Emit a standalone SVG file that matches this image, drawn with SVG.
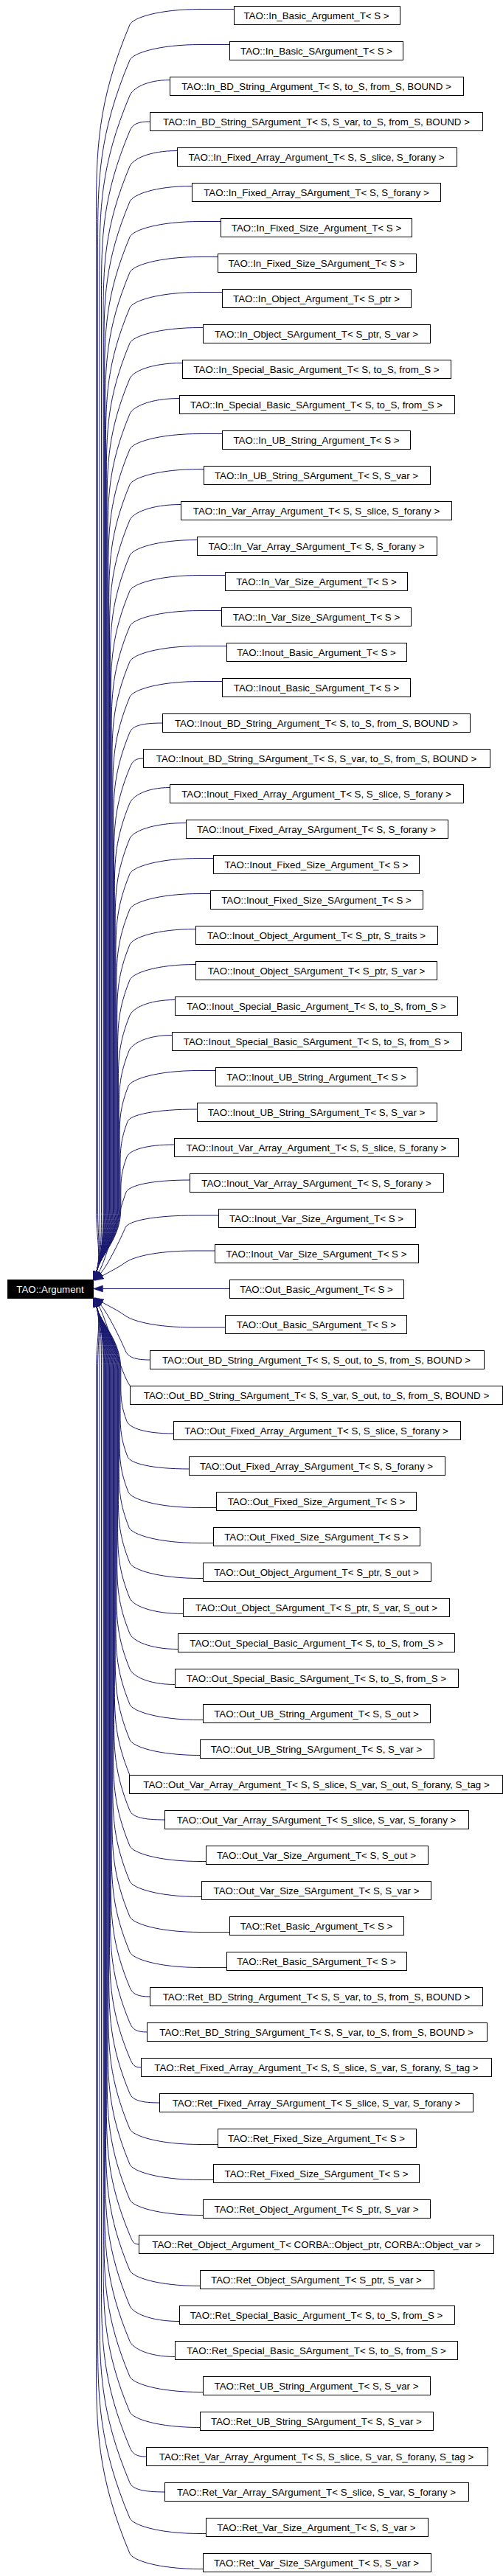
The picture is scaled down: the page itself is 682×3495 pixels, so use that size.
<svg xmlns="http://www.w3.org/2000/svg" width="682" height="3495" viewBox="0 0 682 3495">
<style>
.n rect{fill:#fff;stroke:#000;stroke-width:1}
.root rect{fill:#000;stroke:#000;stroke-width:1}
text{font-family:"Liberation Sans",Arial,Helvetica,sans-serif;font-size:13.3px;text-anchor:middle;fill:#000}
.root text{fill:#fff}
.e path{fill:none;stroke:#191970;stroke-width:1;marker-end:url(#ah)}
</style>
<defs>
<marker id="ah" viewBox="0 -5 13 10" refX="0" refY="0" markerWidth="13" markerHeight="10" markerUnits="userSpaceOnUse" orient="auto"><path d="M0,-4.5 L13,0 L0,4.5 z" fill="#191970" stroke="#191970" stroke-width="0.5"/></marker>
</defs>
<rect x="0" y="0" width="682" height="3495" fill="#fff"/>
<g id="edges" class="e">
<path d="M317.5,12.5 L272,12.5 C214.4,12.5 179.9,24.3 176,33.5 C131.5,139.1 130.5,205 130.5,297.4 L130.5,1640 C130.5,1680 137.4,1700.8 130.9,1724.9"/>
<path d="M311.5,60.5 L272,60.5 C214.4,60.5 179.9,72.3 176,81.5 C133.5,182.4 132.5,245.5 132.5,333.8 L132.5,1640 C132.5,1680 137.4,1700.8 130.9,1724.9"/>
<path d="M230.5,108.5 C197.8,108.5 179.9,120.3 176,129.5 C136,224.6 135,284.1 135,367.3 L135,1640 C135,1680 137.4,1700.8 130.9,1724.9"/>
<path d="M203.5,165 C186.8,165 179.9,168.3 176,177.5 C138.5,266.8 137.5,322.6 137.5,400.8 L137.5,1640 C137.5,1680 137.4,1700.8 130.9,1724.9"/>
<path d="M240.5,204.5 C201.4,204.5 179.9,216.3 176,225.5 C141,309 140,361.2 140,434.3 L140,1640 C140,1680 137.4,1700.8 130.9,1724.9"/>
<path d="M260.5,252.5 C209.6,252.5 179.9,264.3 176,273.5 C141.9,355 140.9,406 140.9,477.4 L140.9,1640 C140.9,1680 137.4,1700.8 130.9,1724.9"/>
<path d="M299.5,300.5 L272,300.5 C214.4,300.5 179.9,312.3 176,321.5 C142.7,401.1 141.7,450.8 141.7,520.4 L141.7,1640 C141.7,1680 137.4,1700.8 130.9,1724.9"/>
<path d="M295.5,348.5 L272,348.5 C214.4,348.5 179.9,360.3 176,369.5 C143.6,447.1 142.6,495.6 142.6,563.5 L142.6,1640 C142.6,1680 137.4,1700.8 130.9,1724.9"/>
<path d="M301.5,396.5 L272,396.5 C214.4,396.5 179.9,408.3 176,417.5 C144.4,493.1 143.4,540.4 143.4,606.6 L143.4,1640 C143.4,1680 137.4,1700.8 130.9,1724.9"/>
<path d="M275.5,444.5 L272,444.5 C214.4,444.5 179.9,456.3 176,465.5 C145.3,539.2 144.3,585.2 144.3,649.7 L144.3,1640 C144.3,1680 137.4,1700.8 130.9,1724.9"/>
<path d="M247.5,492.5 C204.3,492.5 179.9,504.3 176,513.5 C146.1,585.2 145.1,630 145.1,692.7 L145.1,1640 C145.1,1680 137.4,1700.8 130.9,1724.9"/>
<path d="M243.5,540.5 C202.7,540.5 179.9,552.3 176,561.5 C147,631.2 146,674.8 146,735.8 L146,1640 C146,1680 137.4,1700.8 130.9,1724.9"/>
<path d="M301.5,588.5 L272,588.5 C214.4,588.5 179.9,600.3 176,609.5 C147.8,677.2 146.8,719.6 146.8,778.9 L146.8,1640 C146.8,1680 137.4,1700.8 130.9,1724.9"/>
<path d="M276.5,636.5 L272,636.5 C214.4,636.5 179.9,648.3 176,657.5 C148.7,723.3 147.7,764.4 147.7,821.9 L147.7,1640 C147.7,1680 137.4,1700.8 130.9,1724.9"/>
<path d="M245.5,684.5 C203.4,684.5 179.9,696.3 176,705.5 C149.5,769.3 148.5,809.2 148.5,865 L148.5,1640 C148.5,1680 137.4,1700.8 130.9,1724.9"/>
<path d="M267.5,732.5 C212.4,732.5 179.9,744.3 176,753.5 C150.4,815.3 149.4,854 149.4,908.1 L149.4,1640 C149.4,1680 137.4,1700.8 130.9,1724.9"/>
<path d="M305.5,780.5 L272,780.5 C214.4,780.5 179.9,792.3 176,801.5 C151.2,861.4 150.2,898.8 150.2,951.1 L150.2,1640 C150.2,1680 137.4,1700.8 130.9,1724.9"/>
<path d="M300.5,828.5 L272,828.5 C214.4,828.5 179.9,840.3 176,849.5 C152.1,907.4 151.1,943.6 151.1,994.2 L151.1,1640 C151.1,1680 137.4,1700.8 130.9,1724.9"/>
<path d="M307.5,876.5 L272,876.5 C214.4,876.5 179.9,888.3 176,897.5 C152.9,953.4 151.9,988.4 151.9,1037.3 L151.9,1640 C151.9,1680 137.4,1700.8 130.9,1724.9"/>
<path d="M301.5,924.5 L272,924.5 C214.4,924.5 179.9,936.3 176,945.5 C153.8,999.4 152.8,1033.2 152.8,1080.4 L152.8,1640 C152.8,1680 137.4,1700.8 130.9,1724.9"/>
<path d="M220.5,981 C193.7,981 179.9,984.3 176,993.5 C154.6,1045.5 153.6,1077.9 153.6,1123.4 L153.6,1640 C153.6,1680 137.4,1700.8 130.9,1724.9"/>
<path d="M194.5,1029 C183.2,1029 179.9,1032.3 176,1041.5 C155.5,1091.5 154.5,1122.7 154.5,1166.5 L154.5,1640 C154.5,1680 137.4,1700.8 130.9,1724.9"/>
<path d="M230.5,1068.5 C197.8,1068.5 179.9,1080.3 176,1089.5 C156.3,1137.5 155.3,1167.5 155.3,1209.6 L155.3,1640 C155.3,1680 137.4,1700.8 130.9,1724.9"/>
<path d="M252.5,1116.5 C206.2,1116.5 179.9,1128.3 176,1137.5 C157.2,1183.6 156.2,1212.3 156.2,1252.6 L156.2,1640 C156.2,1680 137.4,1700.8 130.9,1724.9"/>
<path d="M289.5,1164.5 L272,1164.5 C214.4,1164.5 179.9,1176.3 176,1185.5 C158,1229.6 157,1257.1 157,1295.7 L157,1640 C157,1680 137.4,1700.8 130.9,1724.9"/>
<path d="M285.5,1212.5 L272,1212.5 C214.4,1212.5 179.9,1224.3 176,1233.5 C158.9,1275.6 157.9,1301.9 157.9,1338.8 L157.9,1640 C157.9,1680 137.4,1700.8 130.9,1724.9"/>
<path d="M265.5,1260.5 C211.5,1260.5 179.9,1272.3 176,1281.5 C159.7,1321.6 158.7,1346.7 158.7,1381.8 L158.7,1640 C158.7,1680 137.4,1700.8 130.9,1724.9"/>
<path d="M265.5,1308.5 C211.5,1308.5 179.9,1320.3 176,1329.5 C160.6,1367.7 159.6,1391.5 159.6,1424.9 L159.6,1640 C159.6,1680 137.4,1700.8 130.9,1724.9"/>
<path d="M237.5,1356.5 C200.2,1356.5 179.9,1368.3 176,1377.5 C161.4,1413.7 160.4,1436.3 160.4,1468 L160.4,1640 C160.4,1680 137.4,1700.8 130.9,1724.9"/>
<path d="M233.5,1404.5 C198,1404.5 178.9,1416.3 175,1425.5 C162.3,1457.4 161.3,1477.3 161.3,1505.3 L161.3,1640 C161.3,1680 137.4,1700.8 130.9,1724.9"/>
<path d="M292.5,1452.5 L270,1452.5 C212.4,1452.5 177.9,1464.3 174,1473.5 C163.1,1501.1 162.1,1518.4 162.1,1542.5 L162.1,1640 C162.1,1680 137.4,1700.8 130.9,1724.9"/>
<path d="M267.5,1505 C210.6,1505 176.9,1512.3 173,1521.5 C164,1544.8 163,1559.4 163,1579.8 L163,1640 C163,1680 137.4,1700.8 130.9,1724.9"/>
<path d="M236.5,1553 C197.5,1553 175.9,1560.3 172,1569.5 C164.8,1588.5 163.8,1600.4 163.8,1617.1 L163.8,1640 C163.8,1680 137.4,1700.8 130.9,1724.9"/>
<path d="M257.5,1601 C205.3,1601 174.9,1608.3 171,1617.5 C165,1631.8 144,1708.9 134,1726.2"/>
<path d="M296.5,1649 L266,1649 C208.4,1649 173.9,1656.3 170,1665.5 C164.2,1679.3 146.2,1716.7 136.2,1727.8"/>
<path d="M291.5,1697 L265,1697 C207.4,1697 178.6,1706.3 169,1713.5 C161,1719.5 145.7,1727 138.8,1731"/>
<path d="M311.5,1748.5 L139.5,1748.5"/>
<g transform="matrix(1 0 0 -1 0 3498)">
<path d="M305.5,1697 L265,1697 C207.4,1697 178.6,1706.3 169,1713.5 C161,1719.5 145.7,1727 138.8,1731"/>
<path d="M203.5,1653 C183.2,1653 173.9,1656.3 170,1665.5 C164.2,1679.3 146.2,1716.7 136.2,1727.8"/>
<path d="M176.5,1617.5 C165,1631.8 144,1708.9 134,1726.2"/>
<path d="M235.5,1553 C197.1,1553 175.9,1560.3 172,1569.5 C164.8,1588.5 163.8,1600.4 163.8,1617.1 L163.8,1640 C163.8,1680 137.4,1700.8 130.9,1724.9"/>
<path d="M256.5,1505 C206.2,1505 176.9,1512.3 173,1521.5 C164,1544.8 163,1559.4 163,1579.8 L163,1640 C163,1680 137.4,1700.8 130.9,1724.9"/>
<path d="M293.5,1452.5 L270,1452.5 C212.4,1452.5 177.9,1464.3 174,1473.5 C163.1,1501.1 162.1,1518.4 162.1,1542.5 L162.1,1640 C162.1,1680 137.4,1700.8 130.9,1724.9"/>
<path d="M289.5,1404.5 L271,1404.5 C213.4,1404.5 178.9,1416.3 175,1425.5 C162.3,1457.4 161.3,1477.3 161.3,1505.3 L161.3,1640 C161.3,1680 137.4,1700.8 130.9,1724.9"/>
<path d="M275.5,1356.5 L272,1356.5 C214.4,1356.5 179.9,1368.3 176,1377.5 C161.4,1413.7 160.4,1436.3 160.4,1468 L160.4,1640 C160.4,1680 137.4,1700.8 130.9,1724.9"/>
<path d="M248.5,1308.5 C204.6,1308.5 179.9,1320.3 176,1329.5 C160.6,1367.7 159.6,1391.5 159.6,1424.9 L159.6,1640 C159.6,1680 137.4,1700.8 130.9,1724.9"/>
<path d="M241.5,1260.5 C201.8,1260.5 179.9,1272.3 176,1281.5 C159.7,1321.6 158.7,1346.7 158.7,1381.8 L158.7,1640 C158.7,1680 137.4,1700.8 130.9,1724.9"/>
<path d="M237.5,1212.5 C200.2,1212.5 179.9,1224.3 176,1233.5 C158.9,1275.6 157.9,1301.9 157.9,1338.8 L157.9,1640 C157.9,1680 137.4,1700.8 130.9,1724.9"/>
<path d="M275.5,1164.5 L272,1164.5 C214.4,1164.5 179.9,1176.3 176,1185.5 C158,1229.6 157,1257.1 157,1295.7 L157,1640 C157,1680 137.4,1700.8 130.9,1724.9"/>
<path d="M271.5,1116.5 C214,1116.5 179.9,1128.3 176,1137.5 C157.2,1183.6 156.2,1212.3 156.2,1252.6 L156.2,1640 C156.2,1680 137.4,1700.8 130.9,1724.9"/>
<path d="M176,1089.5 C156.3,1137.5 155.3,1167.5 155.3,1209.6 L155.3,1640 C155.3,1680 137.4,1700.8 130.9,1724.9"/>
<path d="M223.5,1029 C194.6,1029 179.9,1032.3 176,1041.5 C155.5,1091.5 154.5,1122.7 154.5,1166.5 L154.5,1640 C154.5,1680 137.4,1700.8 130.9,1724.9"/>
<path d="M279.5,972.5 L272,972.5 C214.4,972.5 179.9,984.3 176,993.5 C154.6,1045.5 153.6,1077.9 153.6,1123.4 L153.6,1640 C153.6,1680 137.4,1700.8 130.9,1724.9"/>
<path d="M273.5,924.5 L272,924.5 C214.4,924.5 179.9,936.3 176,945.5 C153.8,999.4 152.8,1033.2 152.8,1080.4 L152.8,1640 C152.8,1680 137.4,1700.8 130.9,1724.9"/>
<path d="M311.5,876.5 L272,876.5 C214.4,876.5 179.9,888.3 176,897.5 C152.9,953.4 151.9,988.4 151.9,1037.3 L151.9,1640 C151.9,1680 137.4,1700.8 130.9,1724.9"/>
<path d="M307.5,828.5 L272,828.5 C214.4,828.5 179.9,840.3 176,849.5 C152.1,907.4 151.1,943.6 151.1,994.2 L151.1,1640 C151.1,1680 137.4,1700.8 130.9,1724.9"/>
<path d="M203.5,789 C186.8,789 179.9,792.3 176,801.5 C151.2,861.4 150.2,898.8 150.2,951.1 L150.2,1640 C150.2,1680 137.4,1700.8 130.9,1724.9"/>
<path d="M199.5,741 C185.3,741 179.9,744.3 176,753.5 C150.4,815.3 149.4,854 149.4,908.1 L149.4,1640 C149.4,1680 137.4,1700.8 130.9,1724.9"/>
<path d="M191.5,693 C182.1,693 179.9,696.3 176,705.5 C149.5,769.3 148.5,809.2 148.5,865 L148.5,1640 C148.5,1680 137.4,1700.8 130.9,1724.9"/>
<path d="M216.5,645 C192.1,645 179.9,648.3 176,657.5 C148.7,723.3 147.7,764.4 147.7,821.9 L147.7,1640 C147.7,1680 137.4,1700.8 130.9,1724.9"/>
<path d="M295.5,588.5 L272,588.5 C214.4,588.5 179.9,600.3 176,609.5 C147.8,677.2 146.8,719.6 146.8,778.9 L146.8,1640 C146.8,1680 137.4,1700.8 130.9,1724.9"/>
<path d="M289.5,540.5 L272,540.5 C214.4,540.5 179.9,552.3 176,561.5 C147,631.2 146,674.8 146,735.8 L146,1640 C146,1680 137.4,1700.8 130.9,1724.9"/>
<path d="M275.5,492.5 L272,492.5 C214.4,492.5 179.9,504.3 176,513.5 C146.1,585.2 145.1,630 145.1,692.7 L145.1,1640 C145.1,1680 137.4,1700.8 130.9,1724.9"/>
<path d="M188.5,453 C180.9,453 179.9,456.3 176,465.5 C145.3,539.2 144.3,585.2 144.3,649.7 L144.3,1640 C144.3,1680 137.4,1700.8 130.9,1724.9"/>
<path d="M271.5,396.5 C214,396.5 179.9,408.3 176,417.5 C144.4,493.1 143.4,540.4 143.4,606.6 L143.4,1640 C143.4,1680 137.4,1700.8 130.9,1724.9"/>
<path d="M243.5,348.5 C202.7,348.5 179.9,360.3 176,369.5 C143.6,447.1 142.6,495.6 142.6,563.5 L142.6,1640 C142.6,1680 137.4,1700.8 130.9,1724.9"/>
<path d="M237.5,300.5 C200.2,300.5 179.9,312.3 176,321.5 C142.7,401.1 141.7,450.8 141.7,520.4 L141.7,1640 C141.7,1680 137.4,1700.8 130.9,1724.9"/>
<path d="M275.5,252.5 L272,252.5 C214.4,252.5 179.9,264.3 176,273.5 C141.9,355 140.9,406 140.9,477.4 L140.9,1640 C140.9,1680 137.4,1700.8 130.9,1724.9"/>
<path d="M271.5,204.5 C214,204.5 179.9,216.3 176,225.5 C141,309 140,361.2 140,434.3 L140,1640 C140,1680 137.4,1700.8 130.9,1724.9"/>
<path d="M198.5,165 C184.9,165 179.9,168.3 176,177.5 C138.5,266.8 137.5,322.6 137.5,400.8 L137.5,1640 C137.5,1680 137.4,1700.8 130.9,1724.9"/>
<path d="M223.5,117 C195,117 179.9,120.3 176,129.5 C136,224.6 135,284.1 135,367.3 L135,1640 C135,1680 137.4,1700.8 130.9,1724.9"/>
<path d="M279.5,60.5 L272,60.5 C214.4,60.5 179.9,72.3 176,81.5 C133.5,182.4 132.5,245.5 132.5,333.8 L132.5,1640 C132.5,1680 137.4,1700.8 130.9,1724.9"/>
<path d="M275.5,12.5 L272,12.5 C214.4,12.5 179.9,24.3 176,33.5 C131.5,139.1 130.5,205 130.5,297.4 L130.5,1640 C130.5,1680 137.4,1700.8 130.9,1724.9"/>
</g>
</g>
<g id="root" class="root"><rect x="10.5" y="1736.5" width="116" height="25"/><text x="68" y="1754">TAO::Argument</text></g>
<g id="n1" class="n"><rect x="317.5" y="8.5" width="225" height="25"/><text x="429" y="26">TAO::In_Basic_Argument_T&lt; S &gt;</text></g>
<g id="n2" class="n"><rect x="311.5" y="56.5" width="235" height="25"/><text x="429" y="74">TAO::In_Basic_SArgument_T&lt; S &gt;</text></g>
<g id="n3" class="n"><rect x="230.5" y="104.5" width="398" height="25"/><text x="429" y="122">TAO::In_BD_String_Argument_T&lt; S, to_S, from_S, BOUND &gt;</text></g>
<g id="n4" class="n"><rect x="203.5" y="152.5" width="451" height="25"/><text x="429" y="170">TAO::In_BD_String_SArgument_T&lt; S, S_var, to_S, from_S, BOUND &gt;</text></g>
<g id="n5" class="n"><rect x="240.5" y="200.5" width="379" height="25"/><text x="429" y="218">TAO::In_Fixed_Array_Argument_T&lt; S, S_slice, S_forany &gt;</text></g>
<g id="n6" class="n"><rect x="260.5" y="248.5" width="337" height="25"/><text x="429" y="266">TAO::In_Fixed_Array_SArgument_T&lt; S, S_forany &gt;</text></g>
<g id="n7" class="n"><rect x="299.5" y="296.5" width="259" height="25"/><text x="429" y="314">TAO::In_Fixed_Size_Argument_T&lt; S &gt;</text></g>
<g id="n8" class="n"><rect x="295.5" y="344.5" width="269" height="25"/><text x="429" y="362">TAO::In_Fixed_Size_SArgument_T&lt; S &gt;</text></g>
<g id="n9" class="n"><rect x="301.5" y="392.5" width="256" height="25"/><text x="429" y="410">TAO::In_Object_Argument_T&lt; S_ptr &gt;</text></g>
<g id="n10" class="n"><rect x="275.5" y="440.5" width="308" height="25"/><text x="429" y="458">TAO::In_Object_SArgument_T&lt; S_ptr, S_var &gt;</text></g>
<g id="n11" class="n"><rect x="247.5" y="488.5" width="364" height="25"/><text x="429" y="506">TAO::In_Special_Basic_Argument_T&lt; S, to_S, from_S &gt;</text></g>
<g id="n12" class="n"><rect x="243.5" y="536.5" width="373" height="25"/><text x="429" y="554">TAO::In_Special_Basic_SArgument_T&lt; S, to_S, from_S &gt;</text></g>
<g id="n13" class="n"><rect x="301.5" y="584.5" width="255" height="25"/><text x="429" y="602">TAO::In_UB_String_Argument_T&lt; S &gt;</text></g>
<g id="n14" class="n"><rect x="276.5" y="632.5" width="307" height="25"/><text x="429" y="650">TAO::In_UB_String_SArgument_T&lt; S, S_var &gt;</text></g>
<g id="n15" class="n"><rect x="245.5" y="680.5" width="367" height="25"/><text x="429" y="698">TAO::In_Var_Array_Argument_T&lt; S, S_slice, S_forany &gt;</text></g>
<g id="n16" class="n"><rect x="267.5" y="728.5" width="325" height="25"/><text x="429" y="746">TAO::In_Var_Array_SArgument_T&lt; S, S_forany &gt;</text></g>
<g id="n17" class="n"><rect x="305.5" y="776.5" width="247" height="25"/><text x="429" y="794">TAO::In_Var_Size_Argument_T&lt; S &gt;</text></g>
<g id="n18" class="n"><rect x="300.5" y="824.5" width="257" height="25"/><text x="429" y="842">TAO::In_Var_Size_SArgument_T&lt; S &gt;</text></g>
<g id="n19" class="n"><rect x="307.5" y="872.5" width="244" height="25"/><text x="429" y="890">TAO::Inout_Basic_Argument_T&lt; S &gt;</text></g>
<g id="n20" class="n"><rect x="301.5" y="920.5" width="255" height="25"/><text x="429" y="938">TAO::Inout_Basic_SArgument_T&lt; S &gt;</text></g>
<g id="n21" class="n"><rect x="220.5" y="968.5" width="417" height="25"/><text x="429" y="986">TAO::Inout_BD_String_Argument_T&lt; S, to_S, from_S, BOUND &gt;</text></g>
<g id="n22" class="n"><rect x="194.5" y="1016.5" width="470" height="25"/><text x="429" y="1034">TAO::Inout_BD_String_SArgument_T&lt; S, S_var, to_S, from_S, BOUND &gt;</text></g>
<g id="n23" class="n"><rect x="230.5" y="1064.5" width="398" height="25"/><text x="429" y="1082">TAO::Inout_Fixed_Array_Argument_T&lt; S, S_slice, S_forany &gt;</text></g>
<g id="n24" class="n"><rect x="252.5" y="1112.5" width="355" height="25"/><text x="429" y="1130">TAO::Inout_Fixed_Array_SArgument_T&lt; S, S_forany &gt;</text></g>
<g id="n25" class="n"><rect x="289.5" y="1160.5" width="279" height="25"/><text x="429" y="1178">TAO::Inout_Fixed_Size_Argument_T&lt; S &gt;</text></g>
<g id="n26" class="n"><rect x="285.5" y="1208.5" width="288" height="25"/><text x="429" y="1226">TAO::Inout_Fixed_Size_SArgument_T&lt; S &gt;</text></g>
<g id="n27" class="n"><rect x="265.5" y="1256.5" width="328" height="25"/><text x="429" y="1274">TAO::Inout_Object_Argument_T&lt; S_ptr, S_traits &gt;</text></g>
<g id="n28" class="n"><rect x="265.5" y="1304.5" width="327" height="25"/><text x="429" y="1322">TAO::Inout_Object_SArgument_T&lt; S_ptr, S_var &gt;</text></g>
<g id="n29" class="n"><rect x="237.5" y="1352.5" width="383" height="25"/><text x="429" y="1370">TAO::Inout_Special_Basic_Argument_T&lt; S, to_S, from_S &gt;</text></g>
<g id="n30" class="n"><rect x="233.5" y="1400.5" width="392" height="25"/><text x="429" y="1418">TAO::Inout_Special_Basic_SArgument_T&lt; S, to_S, from_S &gt;</text></g>
<g id="n31" class="n"><rect x="292.5" y="1448.5" width="273" height="25"/><text x="429" y="1466">TAO::Inout_UB_String_Argument_T&lt; S &gt;</text></g>
<g id="n32" class="n"><rect x="267.5" y="1496.5" width="325" height="25"/><text x="429" y="1514">TAO::Inout_UB_String_SArgument_T&lt; S, S_var &gt;</text></g>
<g id="n33" class="n"><rect x="236.5" y="1544.5" width="385" height="25"/><text x="429" y="1562">TAO::Inout_Var_Array_Argument_T&lt; S, S_slice, S_forany &gt;</text></g>
<g id="n34" class="n"><rect x="257.5" y="1592.5" width="344" height="25"/><text x="429" y="1610">TAO::Inout_Var_Array_SArgument_T&lt; S, S_forany &gt;</text></g>
<g id="n35" class="n"><rect x="296.5" y="1640.5" width="267" height="25"/><text x="429" y="1658">TAO::Inout_Var_Size_Argument_T&lt; S &gt;</text></g>
<g id="n36" class="n"><rect x="291.5" y="1688.5" width="276" height="25"/><text x="429" y="1706">TAO::Inout_Var_Size_SArgument_T&lt; S &gt;</text></g>
<g id="n37" class="n"><rect x="311.5" y="1736.5" width="236" height="25"/><text x="429" y="1754">TAO::Out_Basic_Argument_T&lt; S &gt;</text></g>
<g id="n38" class="n"><rect x="305.5" y="1784.5" width="246" height="25"/><text x="429" y="1802">TAO::Out_Basic_SArgument_T&lt; S &gt;</text></g>
<g id="n39" class="n"><rect x="203.5" y="1832.5" width="453" height="25"/><text x="429" y="1850">TAO::Out_BD_String_Argument_T&lt; S, S_out, to_S, from_S, BOUND &gt;</text></g>
<g id="n40" class="n"><rect x="176.5" y="1880.5" width="505" height="25"/><text x="429" y="1898">TAO::Out_BD_String_SArgument_T&lt; S, S_var, S_out, to_S, from_S, BOUND &gt;</text></g>
<g id="n41" class="n"><rect x="235.5" y="1928.5" width="389" height="25"/><text x="429" y="1946">TAO::Out_Fixed_Array_Argument_T&lt; S, S_slice, S_forany &gt;</text></g>
<g id="n42" class="n"><rect x="256.5" y="1976.5" width="347" height="25"/><text x="429" y="1994">TAO::Out_Fixed_Array_SArgument_T&lt; S, S_forany &gt;</text></g>
<g id="n43" class="n"><rect x="293.5" y="2024.5" width="271" height="25"/><text x="429" y="2042">TAO::Out_Fixed_Size_Argument_T&lt; S &gt;</text></g>
<g id="n44" class="n"><rect x="289.5" y="2072.5" width="280" height="25"/><text x="429" y="2090">TAO::Out_Fixed_Size_SArgument_T&lt; S &gt;</text></g>
<g id="n45" class="n"><rect x="275.5" y="2120.5" width="309" height="25"/><text x="429" y="2138">TAO::Out_Object_Argument_T&lt; S_ptr, S_out &gt;</text></g>
<g id="n46" class="n"><rect x="248.5" y="2168.5" width="361" height="25"/><text x="429" y="2186">TAO::Out_Object_SArgument_T&lt; S_ptr, S_var, S_out &gt;</text></g>
<g id="n47" class="n"><rect x="241.5" y="2216.5" width="375" height="25"/><text x="429" y="2234">TAO::Out_Special_Basic_Argument_T&lt; S, to_S, from_S &gt;</text></g>
<g id="n48" class="n"><rect x="237.5" y="2264.5" width="384" height="25"/><text x="429" y="2282">TAO::Out_Special_Basic_SArgument_T&lt; S, to_S, from_S &gt;</text></g>
<g id="n49" class="n"><rect x="275.5" y="2312.5" width="308" height="25"/><text x="429" y="2330">TAO::Out_UB_String_Argument_T&lt; S, S_out &gt;</text></g>
<g id="n50" class="n"><rect x="271.5" y="2360.5" width="317" height="25"/><text x="429" y="2378">TAO::Out_UB_String_SArgument_T&lt; S, S_var &gt;</text></g>
<g id="n51" class="n"><rect x="175.5" y="2408.5" width="506" height="25"/><text x="429" y="2426">TAO::Out_Var_Array_Argument_T&lt; S, S_slice, S_var, S_out, S_forany, S_tag &gt;</text></g>
<g id="n52" class="n"><rect x="223.5" y="2456.5" width="412" height="25"/><text x="429" y="2474">TAO::Out_Var_Array_SArgument_T&lt; S_slice, S_var, S_forany &gt;</text></g>
<g id="n53" class="n"><rect x="279.5" y="2504.5" width="301" height="25"/><text x="429" y="2522">TAO::Out_Var_Size_Argument_T&lt; S, S_out &gt;</text></g>
<g id="n54" class="n"><rect x="273.5" y="2552.5" width="311" height="25"/><text x="429" y="2570">TAO::Out_Var_Size_SArgument_T&lt; S, S_var &gt;</text></g>
<g id="n55" class="n"><rect x="311.5" y="2600.5" width="236" height="25"/><text x="429" y="2618">TAO::Ret_Basic_Argument_T&lt; S &gt;</text></g>
<g id="n56" class="n"><rect x="307.5" y="2648.5" width="244" height="25"/><text x="429" y="2666">TAO::Ret_Basic_SArgument_T&lt; S &gt;</text></g>
<g id="n57" class="n"><rect x="203.5" y="2696.5" width="451" height="25"/><text x="429" y="2714">TAO::Ret_BD_String_Argument_T&lt; S, S_var, to_S, from_S, BOUND &gt;</text></g>
<g id="n58" class="n"><rect x="199.5" y="2744.5" width="461" height="25"/><text x="429" y="2762">TAO::Ret_BD_String_SArgument_T&lt; S, S_var, to_S, from_S, BOUND &gt;</text></g>
<g id="n59" class="n"><rect x="191.5" y="2792.5" width="475" height="25"/><text x="429" y="2810">TAO::Ret_Fixed_Array_Argument_T&lt; S, S_slice, S_var, S_forany, S_tag &gt;</text></g>
<g id="n60" class="n"><rect x="216.5" y="2840.5" width="425" height="25"/><text x="429" y="2858">TAO::Ret_Fixed_Array_SArgument_T&lt; S_slice, S_var, S_forany &gt;</text></g>
<g id="n61" class="n"><rect x="295.5" y="2888.5" width="269" height="25"/><text x="429" y="2906">TAO::Ret_Fixed_Size_Argument_T&lt; S &gt;</text></g>
<g id="n62" class="n"><rect x="289.5" y="2936.5" width="279" height="25"/><text x="429" y="2954">TAO::Ret_Fixed_Size_SArgument_T&lt; S &gt;</text></g>
<g id="n63" class="n"><rect x="275.5" y="2984.5" width="308" height="25"/><text x="429" y="3002">TAO::Ret_Object_Argument_T&lt; S_ptr, S_var &gt;</text></g>
<g id="n64" class="n"><rect x="188.5" y="3032.5" width="481" height="25"/><text x="429" y="3050">TAO::Ret_Object_Argument_T&lt; CORBA::Object_ptr, CORBA::Object_var &gt;</text></g>
<g id="n65" class="n"><rect x="271.5" y="3080.5" width="317" height="25"/><text x="429" y="3098">TAO::Ret_Object_SArgument_T&lt; S_ptr, S_var &gt;</text></g>
<g id="n66" class="n"><rect x="243.5" y="3128.5" width="373" height="25"/><text x="429" y="3146">TAO::Ret_Special_Basic_Argument_T&lt; S, to_S, from_S &gt;</text></g>
<g id="n67" class="n"><rect x="237.5" y="3176.5" width="383" height="25"/><text x="429" y="3194">TAO::Ret_Special_Basic_SArgument_T&lt; S, to_S, from_S &gt;</text></g>
<g id="n68" class="n"><rect x="275.5" y="3224.5" width="308" height="25"/><text x="429" y="3242">TAO::Ret_UB_String_Argument_T&lt; S, S_var &gt;</text></g>
<g id="n69" class="n"><rect x="271.5" y="3272.5" width="316" height="25"/><text x="429" y="3290">TAO::Ret_UB_String_SArgument_T&lt; S, S_var &gt;</text></g>
<g id="n70" class="n"><rect x="198.5" y="3320.5" width="463" height="25"/><text x="429" y="3338">TAO::Ret_Var_Array_Argument_T&lt; S, S_slice, S_var, S_forany, S_tag &gt;</text></g>
<g id="n71" class="n"><rect x="223.5" y="3368.5" width="412" height="25"/><text x="429" y="3386">TAO::Ret_Var_Array_SArgument_T&lt; S_slice, S_var, S_forany &gt;</text></g>
<g id="n72" class="n"><rect x="279.5" y="3416.5" width="301" height="25"/><text x="429" y="3434">TAO::Ret_Var_Size_Argument_T&lt; S, S_var &gt;</text></g>
<g id="n73" class="n"><rect x="275.5" y="3464.5" width="309" height="25"/><text x="429" y="3482">TAO::Ret_Var_Size_SArgument_T&lt; S, S_var &gt;</text></g>
</svg>
